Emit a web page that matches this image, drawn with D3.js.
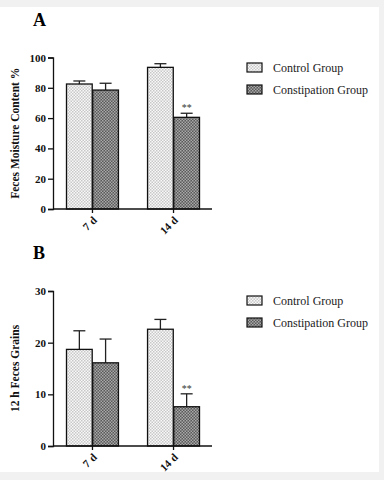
<!DOCTYPE html>
<html>
<head>
<meta charset="utf-8">
<script src="https://cdn.jsdelivr.net/npm/d3@7"></script>
<style>
  body { margin: 0; background: #f1f1f1; }
  svg { display: block; }
</style>
</head>
<body>
<div id="chart"></div>
<script>
// data
const groups = ['Control Group', 'Constipation Group'];
const days = ['7 d', '14 d'];

const moistureMean = [[82.5, 78.5], [93.5, 60.5]];
const moistureErr = [2.0, 4.5, 2.4, 2.7];
const moistureTicks = [0, 20, 40, 60, 80, 100];

const grainsMean = [[18.7, 16.1], [22.6, 7.6]];
const grainsErr = [3.6, 4.6, 1.9, 2.5];
const grainsTicks = [0, 10, 20, 30];

const stars = [[false, false], [false, true]];

const width = 384, height = 480;
const svg = d3.select('#chart').append('svg')
    .attr('width', width).attr('height', height);

svg.append('rect').attr('x', 0).attr('y', 7).attr('width', 379).attr('height', 465).attr('fill', '#fff');

// fill patterns
const defs = svg.append('defs');
function makePattern(id, bg, fg) {
    const p = defs.append('pattern').attr('id', id)
        .attr('patternUnits', 'userSpaceOnUse').attr('width', 3).attr('height', 3);
    p.append('rect').attr('width', 3).attr('height', 3).attr('fill', bg);
    p.append('rect').attr('x', 0).attr('y', 0).attr('width', 1.5).attr('height', 1.5).attr('fill', fg);
    p.append('rect').attr('x', 1.5).attr('y', 1.5).attr('width', 1.5).attr('height', 1.5).attr('fill', fg);
}
makePattern('pCtrl', '#f8f8f8', '#c8c8c8');
makePattern('pConst', '#5a5a5a', '#a8a8a8');
const fills = ['url(#pCtrl)', 'url(#pConst)'];

const serif = '"Liberation Serif", "Times New Roman", serif';

function drawPanel(cfg) {
    const g = svg.append('g');
    const y = d3.scaleLinear().domain([0, cfg.max]).range([cfg.bottom, cfg.top]);
    const x0 = d3.scaleBand().domain(days).range([53, 213]).paddingInner(0.346).paddingOuter(0.16);
    const x1 = d3.scaleBand().domain(groups).range([0, x0.bandwidth()]).padding(0.02);

    // panel letter
    g.append('text').attr('x', 33).attr('y', cfg.letterY)
        .attr('font-family', serif).attr('font-weight', 'bold').attr('font-size', 18)
        .text(cfg.letter);

    // bars
    days.forEach((d, i) => {
        groups.forEach((grp, j) => {
            const v = cfg.mean[i][j];
            const e = cfg.err[i * 2 + j];
            const bx = x0(d) + x1(grp);
            const bw = x1.bandwidth();
            const cx = bx + bw / 2;
            // error bar (upper only)
            g.append('line').attr('x1', cx).attr('x2', cx)
                .attr('y1', y(v)).attr('y2', y(v + e))
                .attr('stroke', '#222').attr('stroke-width', 1.3);
            g.append('line').attr('x1', cx - 6).attr('x2', cx + 6)
                .attr('y1', y(v + e)).attr('y2', y(v + e))
                .attr('stroke', '#222').attr('stroke-width', 1.3);
            g.append('rect').attr('x', bx).attr('y', y(v))
                .attr('width', bw).attr('height', y(0) - y(v))
                .attr('fill', fills[j]).attr('stroke', '#111').attr('stroke-width', 1.3);
            if (stars[i][j]) {
                g.append('text').attr('x', cx).attr('y', y(v + e) - 2)
                    .attr('text-anchor', 'middle').attr('font-family', serif)
                    .attr('font-size', 10).attr('fill', '#333').text('**');
            }
        });
    });

    // y axis
    const ya = g.append('g').attr('transform', 'translate(53,0)')
        .call(d3.axisLeft(y).tickValues(cfg.ticks).tickSize(5).tickPadding(2));
    ya.select('.domain').attr('stroke', '#111').attr('stroke-width', 1.3);
    ya.selectAll('line').attr('stroke', '#111').attr('stroke-width', 1.3);
    ya.selectAll('text').attr('font-family', serif).attr('font-weight', 'bold')
        .attr('font-size', 11).attr('fill', '#111');

    // x axis
    const xa = g.append('g').attr('transform', `translate(0,${cfg.bottom})`)
        .call(d3.axisBottom(x0).tickSize(4).tickSizeOuter(0));
    xa.select('.domain').attr('stroke', '#111').attr('stroke-width', 1.3)
        .attr('d', `M53,0H212`);
    xa.selectAll('line').attr('stroke', '#111').attr('stroke-width', 1.3);
    xa.selectAll('text').attr('font-family', serif).attr('font-weight', 'bold')
        .attr('font-size', 11).attr('fill', '#111')
        .attr('text-anchor', 'end').attr('dy', 0).attr('y', 0)
        .attr('transform', 'translate(5,12) rotate(-45)');

    // y label
    g.append('text')
        .attr('transform', `translate(19,${(cfg.top + cfg.bottom) / 2}) rotate(-90)`)
        .attr('text-anchor', 'middle').attr('font-family', serif).attr('font-weight', 'bold')
        .attr('font-size', 11.5).attr('fill', '#111').text(cfg.label);

    // legend
    groups.forEach((grp, j) => {
        const ly = cfg.legendY + j * 22;
        g.append('rect').attr('x', 247).attr('y', ly).attr('width', 15).attr('height', 9)
            .attr('fill', fills[j]).attr('stroke', '#111').attr('stroke-width', 1.2);
        g.append('text').attr('x', 273).attr('y', ly + 8.5)
            .attr('font-family', serif).attr('font-size', 12).attr('fill', '#222').text(grp);
    });
}

drawPanel({
    letter: 'A', letterY: 26, max: 100, top: 57.5, bottom: 209,
    mean: moistureMean, err: moistureErr, ticks: moistureTicks,
    label: 'Feces Moisture Content %', legendY: 63
});

drawPanel({
    letter: 'B', letterY: 259, max: 30, top: 291, bottom: 446,
    mean: grainsMean, err: grainsErr, ticks: grainsTicks,
    label: '12 h Feces Grains', legendY: 296
});
</script>
</body>
</html>
